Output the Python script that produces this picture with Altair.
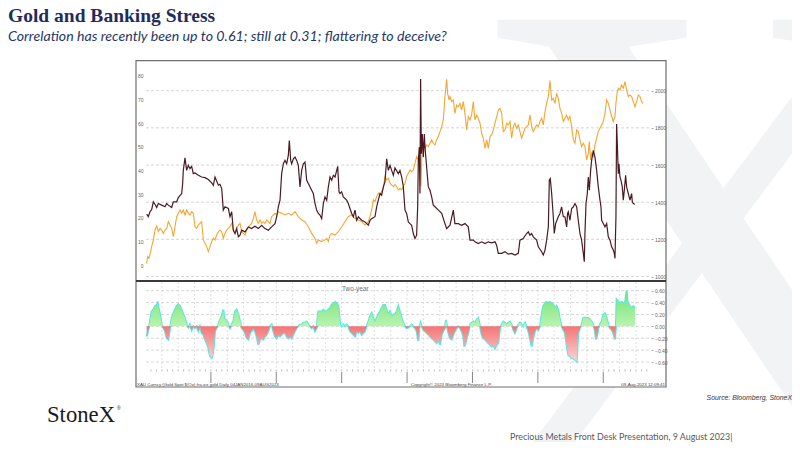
import altair as alt
import pandas as pd

# ---------------- data (decimal year, value) ----------------
dark_points = [
    (2016.018, 21.5), (2016.043, 20.4), (2016.069, 22.5), (2016.094, 23.4), (2016.120, 26.7), (2016.145, 25.7),
    (2016.171, 24.3), (2016.196, 26.0), (2016.247, 25.3), (2016.298, 24.6), (2016.324, 26.0), (2016.349, 25.3),
    (2016.400, 24.3), (2016.426, 26.7), (2016.477, 26.7), (2016.502, 28.5), (2016.553, 30.2), (2016.568, 34.4),
    (2016.578, 40.0), (2016.604, 45.3), (2016.629, 40.0), (2016.655, 42.1), (2016.680, 40.7), (2016.706, 41.7),
    (2016.731, 38.6), (2016.757, 38.9), (2016.808, 37.9), (2016.859, 37.2), (2016.910, 36.9), (2016.961, 36.1),
    (2017.012, 34.7), (2017.037, 33.7), (2017.063, 37.2), (2017.114, 33.7), (2017.139, 34.1), (2017.165, 32.3),
    (2017.190, 23.2), (2017.216, 24.6), (2017.267, 23.9), (2017.292, 20.4), (2017.318, 22.5), (2017.343, 14.7),
    (2017.369, 13.3), (2017.394, 15.4), (2017.420, 11.9), (2017.445, 12.6), (2017.471, 14.7), (2017.522, 14.0),
    (2017.573, 16.1), (2017.623, 15.4), (2017.674, 16.4), (2017.725, 15.4), (2017.776, 16.8), (2017.827, 15.4),
    (2017.878, 14.7), (2017.929, 16.1), (2017.980, 17.5), (2018.006, 20.4), (2018.031, 24.6), (2018.057, 27.4),
    (2018.082, 38.6), (2018.108, 42.8), (2018.133, 44.2), (2018.159, 42.8), (2018.184, 46.3), (2018.199, 52.6),
    (2018.220, 44.2), (2018.235, 42.8), (2018.261, 44.9), (2018.286, 45.6), (2018.312, 44.2), (2018.337, 42.1),
    (2018.363, 33.0), (2018.388, 40.0), (2018.414, 42.8), (2018.439, 43.5), (2018.465, 35.8), (2018.490, 34.4),
    (2018.541, 31.6), (2018.566, 30.2), (2018.592, 26.0), (2018.617, 23.2), (2018.643, 21.8), (2018.668, 21.1),
    (2018.694, 19.6), (2018.720, 26.0), (2018.745, 28.8), (2018.771, 27.4), (2018.796, 33.0), (2018.822, 37.2),
    (2018.847, 35.8), (2018.873, 37.9), (2018.898, 37.2), (2018.924, 40.0), (2018.939, 41.7), (2018.959, 30.9),
    (2018.974, 30.2), (2018.999, 30.9), (2019.025, 28.8), (2019.076, 27.4), (2019.101, 26.0), (2019.127, 23.9),
    (2019.153, 21.8), (2019.178, 20.4), (2019.204, 23.2), (2019.229, 18.9), (2019.255, 20.4), (2019.306, 18.9),
    (2019.356, 18.2), (2019.407, 16.8), (2019.433, 18.9), (2019.458, 19.6), (2019.509, 20.4), (2019.535, 24.6),
    (2019.560, 27.4), (2019.586, 30.2), (2019.611, 29.5), (2019.637, 33.0), (2019.662, 35.1), (2019.688, 44.9),
    (2019.713, 40.0), (2019.739, 42.1), (2019.764, 40.0), (2019.790, 37.9), (2019.815, 41.0), (2019.866, 38.6),
    (2019.891, 40.0), (2019.917, 37.2), (2019.942, 33.3), (2019.968, 23.2), (2019.993, 21.8), (2020.019, 18.2),
    (2020.044, 17.5), (2020.070, 16.8), (2020.095, 13.3), (2020.121, 11.2), (2020.146, 12.6), (2020.162, 24.6),
    (2020.172, 44.2), (2020.187, 49.8), (2020.197, 30.2), (2020.207, 78.6), (2020.218, 47.0), (2020.233, 55.4),
    (2020.248, 45.6), (2020.264, 55.4), (2020.274, 49.8), (2020.299, 41.4), (2020.325, 33.0), (2020.350, 31.6),
    (2020.376, 28.8), (2020.401, 25.3), (2020.427, 24.6), (2020.478, 23.2), (2020.529, 21.8), (2020.579, 17.5),
    (2020.605, 15.4), (2020.656, 16.8), (2020.707, 23.2), (2020.732, 17.5), (2020.783, 17.5), (2020.834, 16.8),
    (2020.885, 17.5), (2020.936, 16.1), (2020.962, 10.5), (2021.013, 10.5), (2021.038, 9.8), (2021.089, 9.1),
    (2021.140, 9.8), (2021.191, 9.1), (2021.242, 9.8), (2021.293, 9.4), (2021.344, 9.8), (2021.369, 8.4),
    (2021.395, 4.9), (2021.446, 4.9), (2021.497, 5.6), (2021.548, 4.6), (2021.599, 4.9), (2021.650, 4.2),
    (2021.701, 4.9), (2021.726, 10.5), (2021.777, 11.2), (2021.828, 13.3), (2021.854, 14.0), (2021.879, 12.6),
    (2021.905, 13.3), (2021.930, 11.9), (2021.981, 10.5), (2022.007, 7.7), (2022.058, 5.6), (2022.083, 4.2),
    (2022.109, 6.3), (2022.134, 10.5), (2022.160, 16.1), (2022.175, 35.8), (2022.190, 36.5), (2022.211, 30.2),
    (2022.236, 20.4), (2022.251, 13.3), (2022.272, 17.5), (2022.312, 20.4), (2022.338, 21.8), (2022.363, 24.6),
    (2022.389, 20.4), (2022.414, 20.4), (2022.440, 16.1), (2022.455, 21.8), (2022.465, 22.5), (2022.491, 18.9),
    (2022.516, 23.9), (2022.542, 24.6), (2022.567, 26.0), (2022.593, 24.6), (2022.618, 18.9), (2022.644, 13.3),
    (2022.669, 10.5), (2022.695, 4.9), (2022.710, 1.4), (2022.720, 13.3), (2022.736, 26.0), (2022.756, 30.2),
    (2022.771, 37.2), (2022.787, 31.6), (2022.807, 40.0), (2022.822, 44.2), (2022.848, 48.4), (2022.873, 45.6),
    (2022.899, 40.0), (2022.924, 33.0), (2022.950, 27.4), (2022.965, 24.6), (2022.975, 18.9), (2023.001, 17.5),
    (2023.026, 16.1), (2023.052, 17.5), (2023.077, 11.9), (2023.103, 10.5), (2023.128, 7.7), (2023.153, 6.3),
    (2023.169, 4.9), (2023.179, 2.8), (2023.194, 20.4), (2023.204, 59.6), (2023.220, 47.0), (2023.230, 38.6),
    (2023.240, 42.8), (2023.255, 37.2), (2023.271, 35.8), (2023.291, 33.0), (2023.306, 27.4), (2023.322, 31.6),
    (2023.342, 37.9), (2023.357, 33.0), (2023.383, 30.2), (2023.408, 27.4), (2023.434, 30.2), (2023.444, 26.7),
    (2023.459, 26.0), (2023.485, 25.7),
]

gold_points = [
    (2016.018, 1071), (2016.033, 1107), (2016.054, 1098), (2016.079, 1134), (2016.094, 1161), (2016.120, 1197),
    (2016.145, 1250), (2016.171, 1272), (2016.196, 1242), (2016.222, 1259), (2016.247, 1250), (2016.273, 1232),
    (2016.298, 1250), (2016.324, 1259), (2016.349, 1295), (2016.375, 1277), (2016.400, 1259), (2016.426, 1214),
    (2016.451, 1268), (2016.477, 1322), (2016.502, 1340), (2016.528, 1358), (2016.553, 1340), (2016.578, 1358),
    (2016.604, 1331), (2016.629, 1358), (2016.655, 1340), (2016.680, 1331), (2016.706, 1349), (2016.731, 1340),
    (2016.757, 1268), (2016.782, 1259), (2016.808, 1277), (2016.833, 1286), (2016.859, 1295), (2016.884, 1197),
    (2016.910, 1179), (2016.935, 1161), (2016.961, 1134), (2016.986, 1161), (2017.012, 1188), (2017.037, 1206),
    (2017.063, 1197), (2017.088, 1223), (2017.114, 1241), (2017.139, 1250), (2017.165, 1241), (2017.190, 1206),
    (2017.216, 1232), (2017.241, 1250), (2017.267, 1259), (2017.292, 1268), (2017.318, 1286), (2017.343, 1250),
    (2017.369, 1232), (2017.394, 1259), (2017.420, 1277), (2017.445, 1286), (2017.471, 1241), (2017.496, 1232),
    (2017.522, 1223), (2017.547, 1250), (2017.573, 1268), (2017.598, 1277), (2017.623, 1286), (2017.649, 1313),
    (2017.674, 1349), (2017.700, 1304), (2017.725, 1286), (2017.751, 1304), (2017.776, 1286), (2017.802, 1295),
    (2017.827, 1286), (2017.853, 1304), (2017.878, 1295), (2017.904, 1286), (2017.929, 1322), (2017.955, 1331),
    (2017.980, 1340), (2018.006, 1331), (2018.031, 1349), (2018.082, 1340), (2018.133, 1331), (2018.184, 1340),
    (2018.235, 1331), (2018.286, 1349), (2018.337, 1322), (2018.388, 1304), (2018.439, 1295), (2018.490, 1268),
    (2018.541, 1232), (2018.592, 1205), (2018.617, 1179), (2018.643, 1197), (2018.694, 1188), (2018.745, 1197),
    (2018.771, 1205), (2018.796, 1188), (2018.822, 1223), (2018.847, 1232), (2018.898, 1223), (2018.949, 1241),
    (2018.999, 1268), (2019.050, 1295), (2019.101, 1322), (2019.153, 1331), (2019.204, 1313), (2019.255, 1304),
    (2019.306, 1295), (2019.356, 1277), (2019.407, 1295), (2019.433, 1322), (2019.458, 1358), (2019.484, 1412),
    (2019.509, 1403), (2019.535, 1430), (2019.560, 1448), (2019.586, 1439), (2019.611, 1457), (2019.637, 1475),
    (2019.662, 1537), (2019.688, 1520), (2019.713, 1529), (2019.739, 1502), (2019.764, 1493), (2019.790, 1484),
    (2019.815, 1495), (2019.840, 1484), (2019.866, 1466), (2019.891, 1475), (2019.917, 1466), (2019.942, 1484),
    (2019.968, 1502), (2019.993, 1538), (2020.019, 1555), (2020.044, 1573), (2020.070, 1564), (2020.095, 1573),
    (2020.121, 1609), (2020.146, 1645), (2020.172, 1627), (2020.187, 1573), (2020.197, 1645), (2020.213, 1484),
    (2020.223, 1627), (2020.233, 1681), (2020.248, 1708), (2020.274, 1690), (2020.299, 1708), (2020.325, 1699),
    (2020.350, 1717), (2020.376, 1735), (2020.401, 1717), (2020.427, 1708), (2020.452, 1735), (2020.478, 1753),
    (2020.503, 1780), (2020.529, 1807), (2020.554, 1843), (2020.579, 1968), (2020.605, 2062), (2020.620, 1986),
    (2020.641, 1950), (2020.656, 1968), (2020.682, 1941), (2020.707, 1950), (2020.732, 1878), (2020.758, 1923),
    (2020.783, 1914), (2020.809, 1932), (2020.834, 1896), (2020.860, 1941), (2020.885, 1878), (2020.911, 1789),
    (2020.936, 1861), (2020.962, 1843), (2020.987, 1869), (2021.013, 1941), (2021.038, 1843), (2021.064, 1869),
    (2021.089, 1852), (2021.115, 1825), (2021.140, 1771), (2021.166, 1744), (2021.191, 1690), (2021.217, 1735),
    (2021.242, 1690), (2021.268, 1753), (2021.293, 1762), (2021.319, 1789), (2021.344, 1825), (2021.370, 1861),
    (2021.395, 1896), (2021.421, 1905), (2021.446, 1878), (2021.472, 1780), (2021.497, 1789), (2021.523, 1825),
    (2021.548, 1816), (2021.574, 1834), (2021.599, 1744), (2021.625, 1807), (2021.650, 1825), (2021.675, 1798),
    (2021.701, 1816), (2021.726, 1780), (2021.752, 1744), (2021.777, 1771), (2021.803, 1798), (2021.828, 1807),
    (2021.854, 1816), (2021.879, 1870), (2021.905, 1807), (2021.930, 1780), (2021.956, 1798), (2021.981, 1816),
    (2022.007, 1807), (2022.032, 1834), (2022.058, 1852), (2022.083, 1816), (2022.109, 1887), (2022.134, 1932),
    (2022.160, 1968), (2022.185, 2054), (2022.211, 1950), (2022.236, 1959), (2022.262, 1932), (2022.287, 1986),
    (2022.312, 1959), (2022.338, 1905), (2022.363, 1878), (2022.389, 1834), (2022.414, 1852), (2022.440, 1869),
    (2022.465, 1843), (2022.491, 1861), (2022.516, 1807), (2022.542, 1735), (2022.567, 1717), (2022.593, 1789),
    (2022.618, 1780), (2022.644, 1735), (2022.669, 1699), (2022.695, 1717), (2022.720, 1699), (2022.746, 1627),
    (2022.771, 1663), (2022.786, 1726), (2022.807, 1627), (2022.822, 1663), (2022.848, 1645), (2022.873, 1708),
    (2022.899, 1744), (2022.924, 1780), (2022.950, 1798), (2022.975, 1816), (2023.001, 1834), (2023.026, 1878),
    (2023.052, 1950), (2023.077, 1932), (2023.103, 1896), (2023.128, 1861), (2023.153, 1834), (2023.179, 1861),
    (2023.194, 1932), (2023.215, 1995), (2023.230, 2013), (2023.255, 2004), (2023.281, 2031), (2023.306, 2013),
    (2023.332, 2049), (2023.357, 2004), (2023.383, 1968), (2023.408, 1977), (2023.434, 1968), (2023.459, 1941),
    (2023.485, 1914), (2023.510, 1941), (2023.536, 1977), (2023.561, 1968), (2023.587, 1941), (2023.612, 1932),
]

corr_points = [
    (2016.018, -0.17), (2016.043, -0.06), (2016.069, 0.08), (2016.094, 0.25), (2016.120, 0.28), (2016.145, 0.34),
    (2016.171, 0.36), (2016.186, 0.39), (2016.206, 0.28), (2016.232, 0.14), (2016.247, 0.03), (2016.273, -0.03),
    (2016.298, -0.08), (2016.324, -0.20), (2016.349, -0.22), (2016.375, -0.03), (2016.400, 0.14), (2016.426, 0.22),
    (2016.451, 0.28), (2016.477, 0.34), (2016.502, 0.37), (2016.528, 0.34), (2016.553, 0.28), (2016.578, 0.20),
    (2016.604, 0.14), (2016.629, 0.03), (2016.655, -0.02), (2016.680, 0.03), (2016.706, -0.06), (2016.731, 0.00),
    (2016.757, -0.03), (2016.782, 0.00), (2016.808, -0.08), (2016.833, 0.00), (2016.859, -0.11), (2016.884, -0.14),
    (2016.910, -0.22), (2016.935, -0.28), (2016.961, -0.36), (2016.986, -0.50), (2017.012, -0.53), (2017.027, -0.48),
    (2017.047, -0.31), (2017.063, -0.08), (2017.088, -0.03), (2017.114, 0.03), (2017.139, 0.11), (2017.165, 0.17),
    (2017.190, 0.28), (2017.205, 0.14), (2017.226, 0.11), (2017.251, 0.08), (2017.267, 0.03), (2017.292, -0.03),
    (2017.318, 0.03), (2017.343, 0.08), (2017.369, 0.25), (2017.394, 0.28), (2017.420, 0.20), (2017.445, 0.08),
    (2017.471, -0.03), (2017.496, -0.06), (2017.522, -0.11), (2017.547, -0.20), (2017.573, -0.22), (2017.598, -0.11),
    (2017.623, -0.08), (2017.649, -0.03), (2017.674, -0.08), (2017.700, -0.17), (2017.725, -0.31), (2017.751, -0.22),
    (2017.776, -0.20), (2017.802, -0.22), (2017.827, -0.17), (2017.853, -0.14), (2017.878, -0.08), (2017.904, 0.00),
    (2017.929, 0.03), (2017.955, -0.08), (2017.980, -0.17), (2018.006, -0.20), (2018.031, -0.14), (2018.057, -0.17),
    (2018.082, -0.14), (2018.108, -0.11), (2018.133, -0.11), (2018.159, -0.17), (2018.184, -0.20), (2018.210, -0.17),
    (2018.235, -0.20), (2018.261, -0.14), (2018.286, -0.08), (2018.312, -0.03), (2018.337, 0.00), (2018.363, 0.03),
    (2018.388, 0.03), (2018.414, 0.06), (2018.439, 0.06), (2018.465, 0.08), (2018.490, 0.03), (2018.516, 0.00),
    (2018.541, -0.03), (2018.566, 0.00), (2018.592, -0.08), (2018.617, -0.03), (2018.643, 0.25), (2018.668, 0.25),
    (2018.694, 0.25), (2018.720, 0.28), (2018.745, 0.25), (2018.771, 0.25), (2018.796, 0.28), (2018.822, 0.31),
    (2018.847, 0.36), (2018.873, 0.39), (2018.898, 0.41), (2018.924, 0.39), (2018.949, 0.34), (2018.975, 0.03),
    (2018.999, 0.00), (2019.025, 0.03), (2019.050, 0.00), (2019.076, 0.03), (2019.101, 0.00), (2019.127, -0.08),
    (2019.153, -0.11), (2019.178, -0.14), (2019.204, -0.17), (2019.229, -0.08), (2019.255, -0.11), (2019.280, -0.08),
    (2019.306, -0.14), (2019.331, -0.11), (2019.356, -0.08), (2019.382, 0.00), (2019.407, 0.08), (2019.433, 0.17),
    (2019.458, 0.22), (2019.484, 0.14), (2019.509, 0.06), (2019.535, 0.14), (2019.560, 0.20), (2019.586, 0.25),
    (2019.611, 0.31), (2019.637, 0.36), (2019.662, 0.36), (2019.688, 0.28), (2019.713, 0.20), (2019.739, 0.25),
    (2019.764, 0.17), (2019.790, 0.20), (2019.815, 0.20), (2019.840, 0.25), (2019.866, 0.34), (2019.881, 0.28),
    (2019.902, 0.20), (2019.917, 0.14), (2019.942, 0.06), (2019.968, 0.00), (2019.993, -0.03), (2020.019, -0.02),
    (2020.044, 0.00), (2020.070, 0.03), (2020.095, 0.00), (2020.121, -0.03), (2020.146, -0.08), (2020.172, -0.25),
    (2020.187, -0.03), (2020.207, 0.06), (2020.223, 0.00), (2020.248, -0.06), (2020.274, -0.08), (2020.299, -0.11),
    (2020.325, -0.14), (2020.350, -0.17), (2020.376, -0.20), (2020.401, -0.22), (2020.427, -0.25), (2020.452, -0.28),
    (2020.478, -0.22), (2020.503, -0.31), (2020.529, -0.14), (2020.554, -0.08), (2020.579, -0.03), (2020.595, 0.11),
    (2020.615, -0.03), (2020.631, -0.11), (2020.656, -0.20), (2020.682, -0.22), (2020.707, -0.14), (2020.732, -0.08),
    (2020.758, -0.03), (2020.783, 0.00), (2020.809, -0.03), (2020.834, -0.08), (2020.860, -0.17), (2020.875, -0.34),
    (2020.896, -0.28), (2020.911, -0.20), (2020.936, -0.11), (2020.962, 0.03), (2020.987, 0.06), (2021.013, 0.08),
    (2021.038, 0.06), (2021.064, 0.11), (2021.089, 0.14), (2021.115, 0.00), (2021.140, -0.14), (2021.166, -0.20),
    (2021.191, -0.22), (2021.217, -0.25), (2021.242, -0.28), (2021.268, -0.31), (2021.293, -0.34), (2021.319, -0.31),
    (2021.344, -0.37), (2021.370, -0.31), (2021.395, -0.28), (2021.421, -0.03), (2021.446, 0.03), (2021.472, 0.08),
    (2021.497, 0.06), (2021.523, 0.03), (2021.548, 0.06), (2021.574, 0.08), (2021.599, 0.03), (2021.625, -0.06),
    (2021.650, -0.11), (2021.675, -0.03), (2021.701, 0.03), (2021.726, 0.06), (2021.752, 0.03), (2021.777, 0.00),
    (2021.803, 0.06), (2021.828, 0.00), (2021.854, -0.08), (2021.879, -0.20), (2021.905, -0.34), (2021.920, -0.25),
    (2021.940, -0.14), (2021.956, -0.08), (2021.981, -0.03), (2022.007, -0.06), (2022.032, 0.00), (2022.058, 0.20),
    (2022.083, 0.34), (2022.109, 0.39), (2022.134, 0.41), (2022.160, 0.39), (2022.185, 0.41), (2022.211, 0.39),
    (2022.236, 0.36), (2022.262, 0.31), (2022.287, 0.34), (2022.312, 0.28), (2022.338, 0.11), (2022.363, 0.00),
    (2022.389, -0.06), (2022.414, -0.11), (2022.440, -0.31), (2022.465, -0.48), (2022.491, -0.50), (2022.516, -0.53),
    (2022.542, -0.54), (2022.567, -0.56), (2022.593, -0.59), (2022.618, -0.11), (2022.644, -0.03), (2022.669, 0.03),
    (2022.695, 0.14), (2022.720, 0.15), (2022.746, 0.14), (2022.771, 0.14), (2022.797, 0.11), (2022.822, 0.08),
    (2022.848, 0.03), (2022.873, -0.08), (2022.888, -0.22), (2022.909, -0.14), (2022.924, -0.03), (2022.950, 0.03),
    (2022.975, 0.08), (2023.001, 0.20), (2023.026, 0.22), (2023.052, 0.14), (2023.077, 0.03), (2023.103, -0.03),
    (2023.128, -0.06), (2023.153, -0.11), (2023.179, -0.22), (2023.194, 0.00), (2023.204, 0.45), (2023.230, 0.42),
    (2023.255, 0.39), (2023.281, 0.41), (2023.306, 0.39), (2023.332, 0.39), (2023.357, 0.60), (2023.372, 0.42),
    (2023.393, 0.36), (2023.408, 0.34), (2023.434, 0.31), (2023.459, 0.34), (2023.485, 0.31),
]

gold_ticks = [1000, 1200, 1400, 1600, 1800, 2000]
dark_ticks = [0, 10, 20, 30, 40, 50, 60, 70, 80]
corr_ticks = [-0.6, -0.4, -0.2, 0.0, 0.2, 0.4, 0.6]
year_label_pos = [2016.5, 2017.5, 2018.5, 2019.5, 2020.5, 2021.5, 2022.5, 2023.36]
year_bounds = [2017, 2018, 2019, 2020, 2021, 2022, 2023]
month_ticks = [2016 + m / 12 for m in range(1, 93)]
quarter_lines = [2016 + q / 4 for q in range(1, 31)]

# ---------------- frames ----------------
dark_df = pd.DataFrame(dark_points, columns=["yr", "v"])
gold_df = pd.DataFrame(gold_points, columns=["yr", "v"])
corr_df = pd.DataFrame(corr_points, columns=["yr", "v"])
corr_df["pos"] = corr_df["v"].clip(lower=0)
corr_df["neg"] = corr_df["v"].clip(upper=0)
corr_df["zero"] = 0.0

W, H = 784, 434
xs = alt.Scale(domain=[2016.0, 2023.73], range=[137.5, 643.0], nice=False, zero=False)
gold_scale = alt.Scale(domain=[1000, 2000], range=[268.5, 82.7], nice=False, zero=False)
dark_scale = alt.Scale(domain=[0, 80], range=[257.0, 67.7], nice=False, zero=False)
corr_scale = alt.Scale(domain=[-0.6, 0.6], range=[354.0, 282.7], nice=False, zero=False)

LBL = dict(labelFont="Liberation Sans", labelFontSize=5, labelColor="#666666", title=None,
           grid=False, domain=False, zindex=1, labelOverlap=False, labelFlush=False)


def one(**cols):
    return pd.DataFrame({k: [v] for k, v in cols.items()})


def text(t, x, y, **kw):
    return alt.Chart(one(t=t)).mark_text(**kw).encode(text="t:N", x=alt.value(x), y=alt.value(y))


watermark = text("X", 705, 470, font="Liberation Serif", fontSize=700, color="#F2F3F5", align="center",
                 baseline="alphabetic")

frame = alt.Chart(one(a=1)).mark_rect(fill="white", stroke="#6e6e6e", strokeWidth=1.2).encode(
    x=alt.value(128), x2=alt.value(658), y=alt.value(52.7), y2=alt.value(379))

gold_grid = alt.Chart(pd.DataFrame({"v": gold_ticks})).mark_rule(
    color="#cccccc", strokeDash=[3, 2], strokeWidth=0.8).encode(
    y=alt.Y("v:Q", scale=gold_scale, axis=None), x=alt.value(138), x2=alt.value(643))

corr_grid = alt.Chart(pd.DataFrame({"v": corr_ticks})).mark_rule(
    color="#cccccc", strokeDash=[3, 2], strokeWidth=0.8).encode(
    y=alt.Y("v:Q", scale=corr_scale, axis=None), x=alt.value(138), x2=alt.value(643))

quarter_grid = alt.Chart(pd.DataFrame({"q": quarter_lines})).mark_rule(
    color="#d4d4d4", strokeDash=[2, 2], strokeWidth=0.7).encode(
    x=alt.X("q:Q", scale=xs, axis=None), y=alt.value(274), y2=alt.value(361.5))

corr_line = alt.Chart(corr_df).mark_line(color="#57E6E6", strokeWidth=2.0).encode(
    x=alt.X("yr:Q", scale=xs, axis=alt.Axis(
        orient="bottom", offset=361.5 - H, values=year_label_pos,
        labelExpr="'' + floor(datum.value)", ticks=False, tickSize=0, labelPadding=5,
        labelFont="Liberation Sans", labelFontSize=5.5, labelColor="#555555", title=None,
        domain=True, domainColor="#b5b5b5", domainWidth=0.8, grid=False, zindex=1,
        labelOverlap=False, labelFlush=False)),
    y=alt.Y("v:Q", scale=corr_scale, axis=alt.Axis(
        orient="right", offset=643 - W, values=corr_ticks, format=".2f",
        ticks=True, tickSize=2, tickColor="#aaaaaa", labelPadding=1.5, **LBL)))

green_grad = alt.Gradient(gradient="linear", x1=0, x2=0, y1=0, y2=1,
                          stops=[alt.GradientStop(color="#72E272", offset=0),
                                 alt.GradientStop(color="#B9F3B1", offset=1)])
red_grad = alt.Gradient(gradient="linear", x1=0, x2=0, y1=0, y2=1,
                        stops=[alt.GradientStop(color="#F37575", offset=0),
                               alt.GradientStop(color="#FBD6D6", offset=1)])

corr_pos = alt.Chart(corr_df).mark_area(color=green_grad).encode(
    x=alt.X("yr:Q", scale=xs, axis=None),
    y=alt.Y("pos:Q", scale=corr_scale, axis=None), y2="zero:Q")
corr_neg = alt.Chart(corr_df).mark_area(color=red_grad).encode(
    x=alt.X("yr:Q", scale=xs, axis=None),
    y=alt.Y("neg:Q", scale=corr_scale, axis=None), y2="zero:Q")

gold_line = alt.Chart(gold_df).mark_line(color="#F2A733", strokeWidth=1.1).encode(
    x=alt.X("yr:Q", scale=xs, axis=None),
    y=alt.Y("v:Q", scale=gold_scale, axis=alt.Axis(
        orient="right", offset=643 - W, values=gold_ticks, format="d",
        ticks=True, tickSize=2, tickColor="#aaaaaa", labelPadding=1.5, **LBL)))

dark_line = alt.Chart(dark_df).mark_line(color="#4A1A24", strokeWidth=1.2).encode(
    x=alt.X("yr:Q", scale=xs, axis=None),
    y=alt.Y("v:Q", scale=dark_scale, axis=alt.Axis(
        orient="left", offset=-136, values=dark_ticks, format="d",
        ticks=False, tickSize=0, labelPadding=1, **LBL)))

separator = alt.Chart(one(a=1)).mark_rule(color="#3a3a3a", strokeWidth=2).encode(
    x=alt.value(128), x2=alt.value(658), y=alt.value(273))

month_marks = alt.Chart(pd.DataFrame({"m": month_ticks})).mark_rule(color="#888888", strokeWidth=0.6).encode(
    x=alt.X("m:Q", scale=xs, axis=None), y=alt.value(361.5), y2=alt.value(363.5))

year_marks = alt.Chart(pd.DataFrame({"b": year_bounds})).mark_rule(color="#555555", strokeWidth=0.7).encode(
    x=alt.X("b:Q", scale=xs, axis=None), y=alt.value(364), y2=alt.value(375))

texts = [
    text("Gold and Banking Stress", 0, 14.3, font="Liberation Serif", fontWeight="bold", fontSize=19.5,
         color="#1F2C5C", align="left", baseline="alphabetic"),
    text("Correlation has recently been up to 0.61; still at 0.31; flattering to deceive?", 0, 33.2,
         font="Lato", fontStyle="italic", fontSize=14.2, color="#1F3868", align="left", baseline="alphabetic"),
    text("Two-year", 334, 281, font="Liberation Sans", fontSize=6.5, color="#777777", align="left",
         baseline="middle"),
    text("XAU Curncy (Gold Spot   $/Oz) fra-xix gold   Daily 04JAN2016-09AUG2023", 129, 378,
         font="Liberation Sans", fontSize=4.4, color="#444444", align="left", baseline="alphabetic"),
    text("Copyright\u00a9 2023 Bloomberg Finance L.P.", 403, 378, font="Liberation Sans", fontSize=4.4,
         color="#444444", align="left", baseline="alphabetic"),
    text("09-Aug-2023 12:09:41", 657, 378, font="Liberation Sans", fontSize=4.4, color="#444444",
         align="right", baseline="alphabetic"),
    text("Source:  Bloomberg,  StoneX", 784, 392, font="Liberation Sans", fontStyle="italic", fontSize=6.9,
         color="#333333", align="right", baseline="alphabetic"),
    text("StoneX", 39, 414, font="Liberation Serif", fontSize=22.7, color="#1A1A1A", align="left",
         baseline="alphabetic"),
    text("\u00ae", 109, 402, font="Liberation Sans", fontSize=5, color="#1A1A1A", align="left",
         baseline="alphabetic"),
    text("Precious Metals Front Desk Presentation, 9 August 2023|", 502, 432, font="Lato", fontSize=8.9,
         color="#595959", align="left", baseline="alphabetic"),
]

chart = alt.layer(
    watermark, frame, gold_grid, corr_grid, quarter_grid, corr_line, corr_pos, corr_neg,
    gold_line, dark_line, separator, month_marks, year_marks, *texts
).resolve_scale(y="independent").properties(
    width=W, height=H, autosize=alt.AutoSizeParams(type="none"), padding=0, background="white"
).configure_view(stroke=None)

chart.save("out.html", embed_options={"renderer": "svg", "actions": False})
